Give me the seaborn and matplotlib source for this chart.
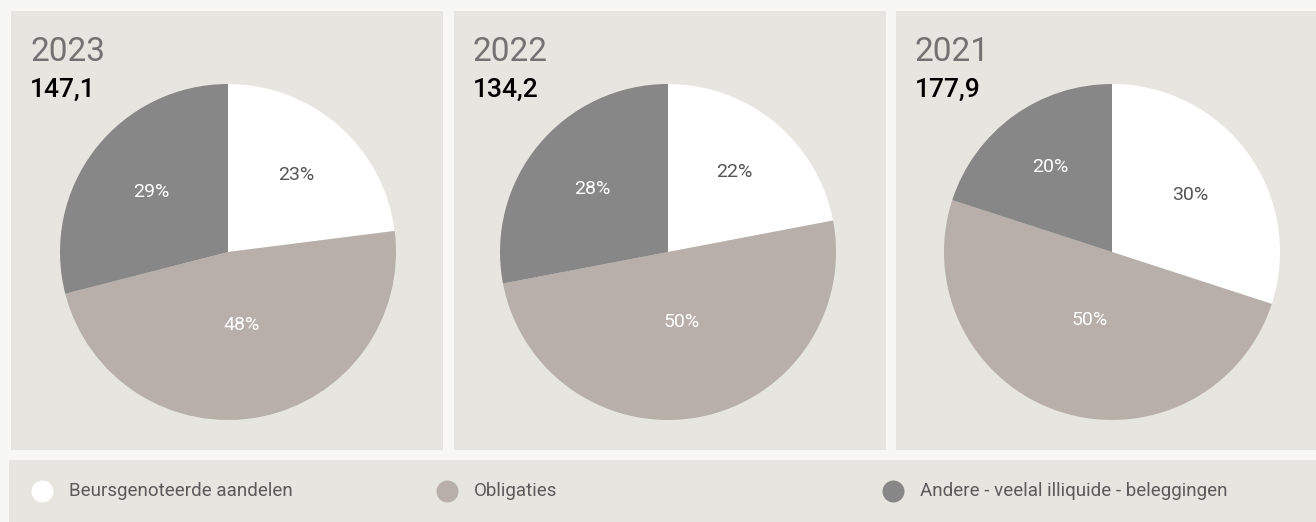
import numpy as np
import matplotlib.pyplot as plt
import seaborn as sns

# data
years = ["2023", "2022", "2021"]
totals = ["147,1", "134,2", "177,9"]
categories = ["Beursgenoteerde aandelen", "Obligaties", "Andere - veelal illiquide - beleggingen"]
aandelen = [23, 22, 30]
obligaties = [48, 50, 50]
andere = [29, 28, 20]

colors = ["#ffffff", "#b8afaa", "#878787"]
label_colors = ["#555555", "#ffffff", "#ffffff"]
page_bg = "#f7f7f3"
panel_bg = "#e6e5df"

sns.set_style("white")
plt.rcParams["font.family"] = ["Roboto", "DejaVu Sans"]

W, H = 1316, 522
fig = plt.figure(figsize=(W / 100, H / 100), dpi=100, facecolor=page_bg)


def px_axes(x0, y0, x1, y1):
    # axes placed in pixel coords (top-left origin), data units = pixels
    ax = fig.add_axes([x0 / W, 1 - y1 / H, (x1 - x0) / W, (y1 - y0) / H])
    ax.set_xlim(0, x1 - x0)
    ax.set_ylim(0, y1 - y0)
    ax.set_facecolor(panel_bg)
    for s in ax.spines.values():
        s.set_visible(False)
    ax.set_xticks([])
    ax.set_yticks([])
    return ax


panels = [(11, 11, 443, 450), (454, 11, 886, 450), (896, 11, 1316, 450)]
pie_cx = [217, 214, 216]
R = 168

for i, (x0, y0, x1, y1) in enumerate(panels):
    ax = px_axes(x0, y0, x1, y1)
    h = y1 - y0
    cx, cy = pie_cx[i], h - 241
    vals = [aandelen[i], obligaties[i], andere[i]]
    wedges, texts, autotexts = ax.pie(
        vals, colors=colors, startangle=90, counterclock=False,
        center=(cx, cy), radius=R, frame=True,
        autopct="%d%%", pctdistance=0.6,
        wedgeprops=dict(linewidth=0),
        textprops=dict(fontsize=14, fontweight="normal"),
    )
    # put each label on the centroid of its wedge
    for w, t, c in zip(wedges, autotexts, label_colors):
        half = np.deg2rad(abs(w.theta2 - w.theta1)) / 2
        mid = np.deg2rad((w.theta1 + w.theta2) / 2)
        d = 2 / 3 * R * np.sin(half) / half
        t.set_position((cx + d * np.cos(mid), cy + d * np.sin(mid)))
        t.set_color(c)
    ax.set_xlim(0, x1 - x0)
    ax.set_ylim(0, h)
    ax.set_aspect("auto")
    ax.set_xticks([])
    ax.set_yticks([])
    ax.text(19, h - 50, years[i], fontsize=24, fontweight="normal", color="#727272",
            ha="left", va="baseline")
    ax.text(19, h - 86, totals[i], fontsize=19, fontweight="medium", color="#000000",
            ha="left", va="baseline")

# legend strip
lax = px_axes(9, 460, 1316, 522)
marker_x = [33, 438, 884]
for mx, cat, col in zip(marker_x, categories, colors):
    lax.scatter([mx], [31], s=250, color=col, linewidths=0)
    lax.text(mx + 27, 31, cat, fontsize=13.5, fontweight="normal", color="#5a5a5a",
             ha="left", va="center")

fig.savefig("out.png", dpi=100, facecolor=page_bg)
